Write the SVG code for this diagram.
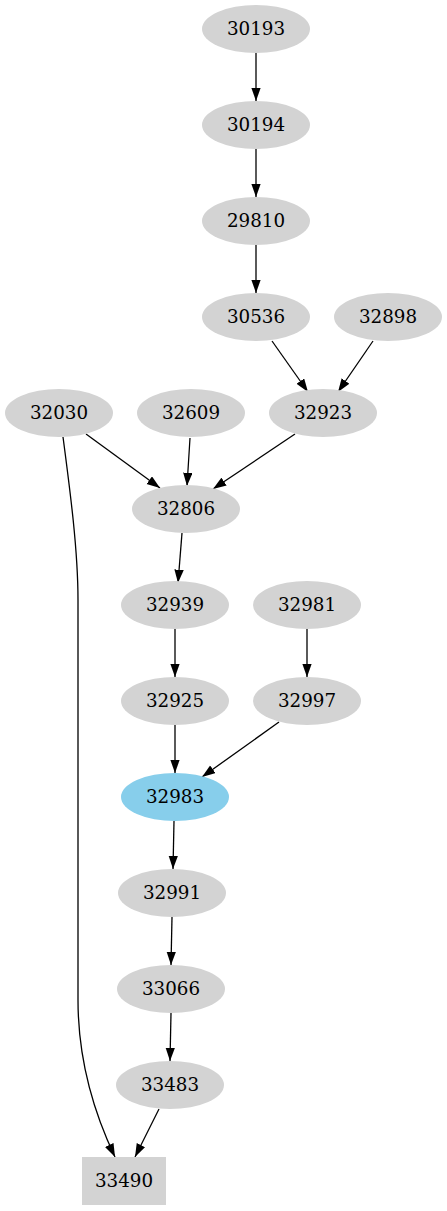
<svg xmlns="http://www.w3.org/2000/svg" width="447" height="1211" viewBox="0 0 447 1211">
<style>
.n ellipse, .n rect { fill: #d3d3d3; stroke: none; }
.n.hl ellipse { fill: #87ceeb; }
.n text { font-family: "DejaVu Serif", serif; font-size: 18.3px; text-anchor: middle; fill: #000; }
#edges path { fill: none; stroke: #000; stroke-width: 1.3; marker-end: url(#arr); }
</style>
<defs>
<marker id="arr" markerWidth="14" markerHeight="10" refX="13.3" refY="4.7" orient="auto" markerUnits="userSpaceOnUse">
<path d="M0,0 L13.3,4.7 L0,9.4 z" fill="#000" stroke="none"/>
</marker>
</defs>
<rect width="447" height="1211" fill="#fff"/>
<g id="edges">
<path d="M256,53 L256,101"/>
<path d="M256,149 L256,197"/>
<path d="M256,245 L256,293"/>
<path d="M272,341 L308,392"/>
<path d="M373,341 L338,392"/>
<path d="M86,434 L160,488"/>
<path d="M190,438 L187,486"/>
<path d="M295,434 L213,489"/>
<path d="M182,533 L178,583"/>
<path d="M175,629 L175,677"/>
<path d="M307,629 L307,677"/>
<path d="M175,725 L175,773"/>
<path d="M279,722 L202,777"/>
<path d="M174,821 L173,869"/>
<path d="M172,917 L171,965"/>
<path d="M171,1013 L170,1061"/>
<path d="M159,1109 L135,1157"/>
<path d="M63,437 C70,490 78,550 78,600 L78,1000 C78,1060 95,1115 115,1157"/>
</g>
<g id="n30193" class="n"><ellipse cx="256" cy="29" rx="54" ry="24"/><text x="256" y="35">30193</text></g>
<g id="n30194" class="n"><ellipse cx="256" cy="125" rx="54" ry="24"/><text x="256" y="131">30194</text></g>
<g id="n29810" class="n"><ellipse cx="256" cy="221" rx="54" ry="24"/><text x="256" y="227">29810</text></g>
<g id="n30536" class="n"><ellipse cx="256" cy="317" rx="54" ry="24"/><text x="256" y="323">30536</text></g>
<g id="n32898" class="n"><ellipse cx="388" cy="317" rx="54" ry="24"/><text x="388" y="323">32898</text></g>
<g id="n32030" class="n"><ellipse cx="59" cy="413" rx="54" ry="24"/><text x="59" y="419">32030</text></g>
<g id="n32609" class="n"><ellipse cx="191" cy="413" rx="54" ry="24"/><text x="191" y="419">32609</text></g>
<g id="n32923" class="n"><ellipse cx="323" cy="413" rx="54" ry="24"/><text x="323" y="419">32923</text></g>
<g id="n32806" class="n"><ellipse cx="186" cy="509" rx="54" ry="24"/><text x="186" y="515">32806</text></g>
<g id="n32939" class="n"><ellipse cx="175" cy="605" rx="54" ry="24"/><text x="175" y="611">32939</text></g>
<g id="n32981" class="n"><ellipse cx="307" cy="605" rx="54" ry="24"/><text x="307" y="611">32981</text></g>
<g id="n32925" class="n"><ellipse cx="175" cy="701" rx="54" ry="24"/><text x="175" y="707">32925</text></g>
<g id="n32997" class="n"><ellipse cx="307" cy="701" rx="54" ry="24"/><text x="307" y="707">32997</text></g>
<g id="n32983" class="n hl"><ellipse cx="175" cy="797" rx="54" ry="24"/><text x="175" y="803">32983</text></g>
<g id="n32991" class="n"><ellipse cx="172" cy="893" rx="54" ry="24"/><text x="172" y="899">32991</text></g>
<g id="n33066" class="n"><ellipse cx="171" cy="989" rx="54" ry="24"/><text x="171" y="995">33066</text></g>
<g id="n33483" class="n"><ellipse cx="170" cy="1085" rx="54" ry="24"/><text x="170" y="1091">33483</text></g>
<g id="n33490" class="n"><rect x="82" y="1157" width="84" height="48"/><text x="124" y="1187">33490</text></g>
</svg>
